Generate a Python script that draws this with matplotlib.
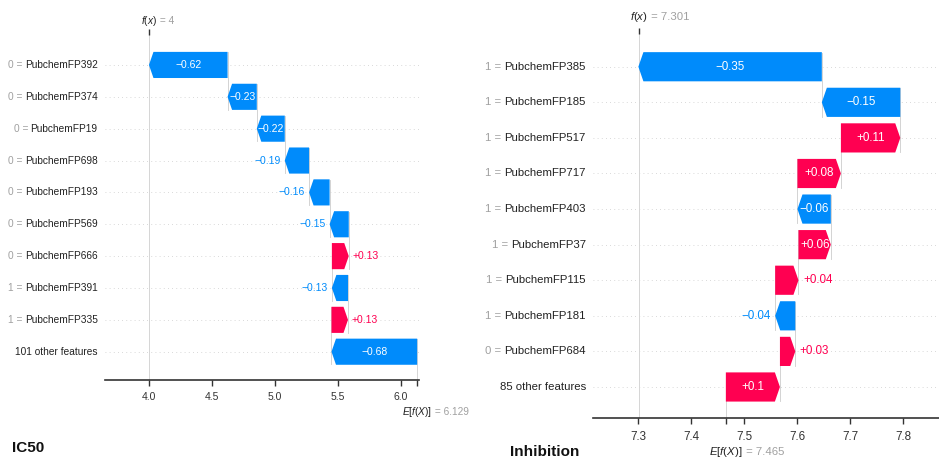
import matplotlib
matplotlib.use("Agg")
import matplotlib.pyplot as plt
from matplotlib import transforms
from matplotlib.patches import Polygon
import numpy as np

# ---------------- data ----------------
ic50_feature_values = ["0", "0", "0", "0", "0", "0", "0", "1", "1", ""]
ic50_feature_names = ["PubchemFP392", "PubchemFP374", "PubchemFP19", "PubchemFP698",
                      "PubchemFP193", "PubchemFP569", "PubchemFP666", "PubchemFP391",
                      "PubchemFP335", "101 other features"]
ic50_shap = [-0.624, -0.232, -0.222, -0.193, -0.163, -0.152, 0.134, -0.128, 0.131, -0.680]
ic50_base = 6.129
ic50_fx = 4.0
ic50_xticks = [4.0, 4.5, 5.0, 5.5, 6.0]

inh_feature_values = ["1", "1", "1", "1", "1", "1", "1", "1", "0", ""]
inh_feature_names = ["PubchemFP385", "PubchemFP185", "PubchemFP517", "PubchemFP717",
                     "PubchemFP403", "PubchemFP37", "PubchemFP115", "PubchemFP181",
                     "PubchemFP684", "85 other features"]
inh_shap = [-0.346, -0.148, 0.112, 0.082, -0.063, 0.061, 0.044, -0.038, 0.029, 0.102]
inh_base = 7.465
inh_fx = 7.301
inh_xticks = [7.3, 7.4, 7.5, 7.6, 7.7, 7.8]

panel_titles = ["IC50", "Inhibition"]

# ---------------- style ----------------
W, H = 939, 459
RED = "#ff0051"
BLUE = "#008bfb"
GRAY = "#a0a0a0"
DARK = "#222222"
FONT = "Liberation Sans"

plt.rcParams["font.family"] = [FONT, "DejaVu Sans"]
plt.rcParams["mathtext.fontset"] = "custom"
plt.rcParams["mathtext.rm"] = FONT
plt.rcParams["mathtext.it"] = FONT + ":italic"

LABEL_FS = 7.3
VAL_FS = 7.5
TICK_FS = 7.5
FX_FS = 7.3


def fmt_num(v, f="%0.03f"):
    s = f % v
    if "." in s:
        s = s.rstrip("0").rstrip(".")
    return s.replace("-", "\u2212")


fig = plt.figure(figsize=(W / 100, H / 100), dpi=100)
renderer = fig.canvas.get_renderer()


def panel(rect_px, xlim, ylim, fvals, fnames, shap_vals, base, fx, xticks, sc,
          fx_dy, e_dy):
    l, r, t, b = rect_px
    ax = fig.add_axes([l / W, 1 - b / H, (r - l) / W, (b - t) / H])
    ax.set_xlim(*xlim)
    ax.set_ylim(*ylim)
    n = len(shap_vals)
    s = np.array(shap_vals)[::-1]
    fv = list(fvals)[::-1]
    fn = list(fnames)[::-1]
    starts = base + np.concatenate([[0.0], np.cumsum(s)[:-1]])
    ends = starts + s
    rows = np.arange(n)
    px_per_unit = ax.get_window_extent().width / (xlim[1] - xlim[0])
    hl = 4.5 * sc / px_per_unit
    h = 0.82

    for i in rows:
        ax.axhline(i, color="#cccccc", lw=0.6, dashes=(1, 4), zorder=-2)
    ax.plot([fx, fx], [ylim[0], ylim[1]], color="#d5d5d5", lw=0.7, zorder=-1)
    ax.plot([base, base], [ylim[0], 0.4], color="#d5d5d5", lw=0.7, zorder=-1)

    for i in rows:
        st, en, v = starts[i], ends[i], s[i]
        sign = 1 if v > 0 else -1
        hli = min(abs(v), hl)
        color = RED if v > 0 else BLUE
        verts = [(st, i - h / 2), (en - sign * hli, i - h / 2), (en, i),
                 (en - sign * hli, i + h / 2), (st, i + h / 2)]
        ax.add_patch(Polygon(verts, closed=True, fc=color, ec="none", zorder=2))
        if i < n - 1:
            ax.plot([en, en], [i - 0.4, i + 1.4], color="#cccccc", lw=0.6, zorder=-1)
        label = fmt_num(v, "%+0.02f")
        tx = ax.text(st + v / 2, i, label, ha="center", va="center", color="white",
                     fontsize=VAL_FS * sc, zorder=3)
        w = tx.get_window_extent(renderer).width
        if w + 1 > abs(v) * px_per_unit:
            tx.remove()
            tr = transforms.offset_copy(ax.transData, fig=fig, x=sign * 4 * sc, y=0,
                                        units="dots")
            ax.text(en, i, label, transform=tr, ha="left" if v > 0 else "right",
                    va="center", color=color, fontsize=VAL_FS * sc, zorder=3)

    # y labels: feature name dark, "value =" prefix gray
    blend = transforms.blended_transform_factory(ax.transAxes, ax.transData)
    ytr = transforms.offset_copy(blend, fig=fig, x=-7.5, y=0, units="dots")
    for i in rows:
        nt = ax.text(0, i, fn[i], transform=ytr, ha="right", va="center", color=DARK,
                     fontsize=LABEL_FS * sc)
        if fv[i] != "":
            ax.annotate(f"{fv[i]} =", xy=(0, 0.5), xycoords=nt,
                        xytext=(-2.5 * sc, 0), textcoords="offset pixels",
                        ha="right", va="center", color=GRAY, fontsize=LABEL_FS * sc)

    # axes styling
    for sp in ["top", "left", "right"]:
        ax.spines[sp].set_visible(False)
    ax.spines["bottom"].set_color("#333333")
    ax.spines["bottom"].set_linewidth(1.2)
    ax.set_yticks([])
    ax.set_xticks(xticks)
    ax.set_xticklabels([f"{x:.1f}" for x in xticks])
    ax.set_xticks([base], minor=True)
    ax.tick_params(axis="x", which="both", length=4, width=1, color="#333333",
                   labelcolor="#333333", labelsize=TICK_FS * sc, pad=5)

    top = ax.secondary_xaxis("top")
    top.set_xticks([fx])
    top.set_xticklabels([""])
    top.spines["top"].set_visible(False)
    top.tick_params(length=4, width=1, color="#333333")

    xb = transforms.blended_transform_factory(ax.transData, ax.transAxes)
    t1 = ax.text(fx, 1, "$f(x)$", transform=transforms.offset_copy(
        xb, fig=fig, x=0, y=fx_dy, units="dots"), ha="center", va="center",
        color=DARK, fontsize=FX_FS * sc)
    ax.annotate(" = " + fmt_num(fx), xy=(1, 0.5), xycoords=t1, ha="left",
                va="center", color=GRAY, fontsize=FX_FS * sc)
    t2 = ax.text(base, 0, "$E[f(X)]$", transform=transforms.offset_copy(
        xb, fig=fig, x=0, y=-e_dy, units="dots"), ha="center", va="center",
        color=DARK, fontsize=FX_FS * sc)
    ax.annotate(" = " + fmt_num(base), xy=(1, 0.5), xycoords=t2, ha="left",
                va="center", color=GRAY, fontsize=FX_FS * sc)
    return ax


panel((105, 419.3, 35, 380), (3.651, 6.146), (-0.888, 9.94),
      ic50_feature_values, ic50_feature_names, ic50_shap, ic50_base, ic50_fx,
      ic50_xticks, 1.0, 14, 31.7)
panel((593.3, 939, 34, 418.3), (7.215, 7.867), (-0.88, 9.92),
      inh_feature_values, inh_feature_names, inh_shap, inh_base, inh_fx,
      inh_xticks, 1.12, 16.7, 33.4)

fig.text(12 / W, 1 - 451.7 / H, panel_titles[0], fontweight="bold", fontsize=11,
         va="baseline", ha="left", color="#111111")
fig.text(510 / W, 1 - 456 / H, panel_titles[1], fontweight="bold", fontsize=11,
         va="baseline", ha="left", color="#111111")

fig.savefig("out.png", dpi=100)
